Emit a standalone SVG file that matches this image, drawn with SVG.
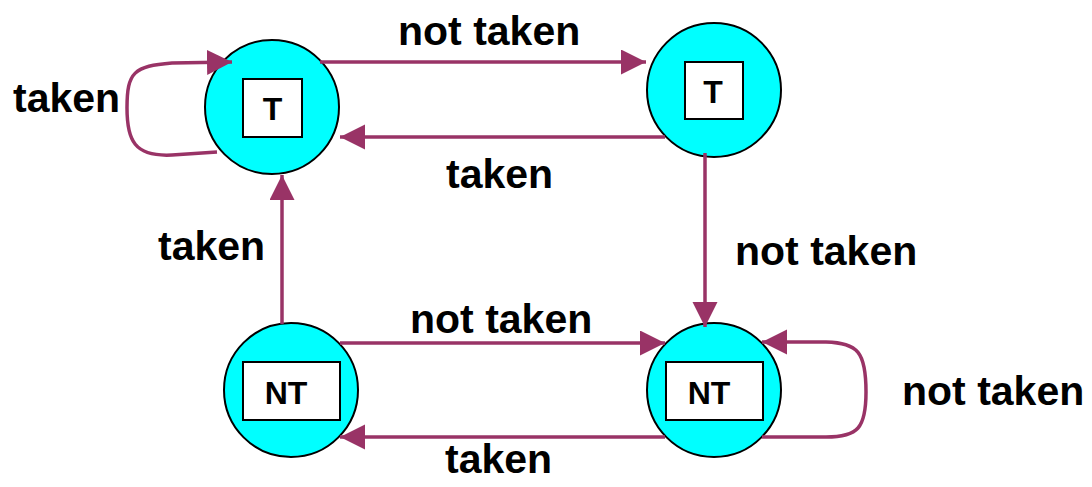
<svg xmlns="http://www.w3.org/2000/svg" width="1092" height="487" viewBox="0 0 1092 487">
  <style>
    .state { fill: #00FFFF; stroke: #000; stroke-width: 2; }
    .box { fill: #fff; stroke: #000; stroke-width: 2; }
    .st { font-family: "Liberation Sans", Arial, sans-serif; font-weight: bold; font-size: 32px; text-anchor: middle; fill: #000; }
    .lbl { font-family: "Liberation Sans", Arial, sans-serif; font-weight: bold; font-size: 41px; fill: #000; }
    .edge { fill: none; stroke: #993366; stroke-width: 3.5; marker-end: url(#head); }
  </style>
  <defs>
    <marker id="head" markerUnits="userSpaceOnUse" markerWidth="26" markerHeight="26" refX="25" refY="12.5" orient="auto">
      <path d="M0,0 L25,12.5 L0,25 z" fill="#993366"/>
    </marker>
  </defs>

  <!-- predictor states -->
  <g id="state-taken-strong">
    <circle class="state" cx="272" cy="107" r="67"/>
    <rect class="box" x="243" y="79" width="59" height="58"/>
    <text class="st" x="272.5" y="119.5">T</text>
  </g>
  <g id="state-taken-weak">
    <circle class="state" cx="714" cy="90" r="67"/>
    <rect class="box" x="685" y="62" width="58" height="57"/>
    <text class="st" x="713" y="102.5">T</text>
  </g>
  <g id="state-nottaken-weak">
    <circle class="state" cx="291" cy="390" r="67"/>
    <rect class="box" x="243" y="362" width="97" height="58"/>
    <text class="st" x="286" y="403.5">NT</text>
  </g>
  <g id="state-nottaken-strong">
    <circle class="state" cx="714" cy="390" r="67"/>
    <rect class="box" x="666" y="362" width="97" height="58"/>
    <text class="st" x="709" y="403.5">NT</text>
  </g>

  <!-- transitions -->
  <g id="connectors">
    <path class="edge" d="M320,62 L646,62"/>
    <path class="edge" d="M665,137 L340,137"/>
    <path class="edge" d="M705,153 L705,327"/>
    <path class="edge" d="M282,324 L282,175"/>
    <path class="edge" d="M340,343 L665,343"/>
    <path class="edge" d="M665,437 L340,437"/>
    <path class="edge" d="M217,152 L172,155 C134,157 127,140 127,108 C127,72 134,66 172,63 L232,62"/>
    <path class="edge" d="M762,437 L826,437 C858,437 866,428 866,392 C866,352 858,343 826,342 L762,342"/>
  </g>

  <!-- transition labels -->
  <g id="labels">
    <text class="lbl" x="398" y="45">not taken</text>
    <text class="lbl" x="13" y="112">taken</text>
    <text class="lbl" x="446" y="188">taken</text>
    <text class="lbl" x="158" y="260">taken</text>
    <text class="lbl" x="735" y="265">not taken</text>
    <text class="lbl" x="410" y="333">not taken</text>
    <text class="lbl" x="902" y="405">not taken</text>
    <text class="lbl" x="445" y="473">taken</text>
  </g>
</svg>
